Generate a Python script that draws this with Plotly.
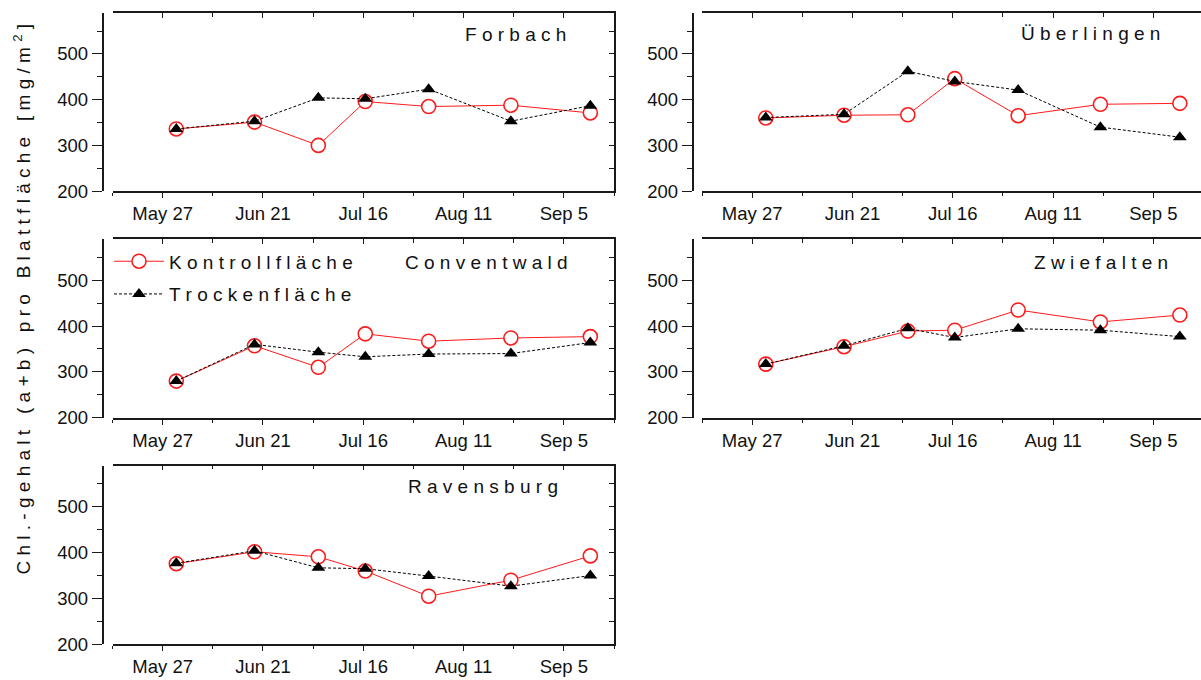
import plotly.graph_objects as go

# ---------------- data ----------------
# sampling days, counted from May 27
days = [3.4, 22.9, 38.8, 50.5, 66.3, 86.8, 106.6]
tick_days = [0, 25, 50, 75, 100]
tick_labels = ["May 27", "Jun 21", "Jul 16", "Aug 11", "Sep 5"]
y_ticks = [200, 300, 400, 500]

sites = ["Forbach", "Überlingen", "Conventwald", "Zwiefalten", "Ravensburg"]
kontroll = {
    "Forbach":     [336, 351, 300, 396, 385, 388, 371],
    "Überlingen":  [360, 366, 367, 446, 365, 390, 392],
    "Conventwald": [280, 357, 310, 383, 367, 374, 377],
    "Zwiefalten":  [317, 355, 389, 391, 435, 409, 424],
    "Ravensburg":  [376, 402, 391, 360, 305, 340, 393],
}
trocken = {
    "Forbach":     [336, 353, 404, 402, 423, 353, 387],
    "Überlingen":  [361, 368, 462, 440, 421, 340, 318],
    "Conventwald": [280, 360, 343, 333, 339, 340, 364],
    "Zwiefalten":  [317, 357, 395, 375, 394, 391, 377],
    "Ravensburg":  [377, 404, 367, 365, 349, 327, 350],
}
names = ["Kontrollfläche", "Trockenfläche"]
y_title = "Chl.-gehalt (a+b) pro Blattfläche [mg/m²]"

# ---------------- layout helpers ----------------
W, H = 1201, 680
FONT = "Liberation Sans, Arial, sans-serif"
FS_TICK = 18.5
FS_TXT = 19


def fx(px):
    return px / W


def fy(py):
    return 1 - py / H


def spaced(s):
    NB = "\u00a0"
    return (NB * 3).join(" ".join(list(w)) for w in s.split(" "))


cols = [  # (y-axis line, frame left, frame right)
    (102.5, 112.5, 614.0),
    (692.5, 702.0, 1201.0),
]
px_per_day = (614.0 - 112.5) / 125.0
rows = [(13.0, 194.0), (242.5, 424.0), (472.5, 654.0)]
grid = [(0, 0), (0, 1), (1, 0), (1, 1), (2, 0)]
title_pos = [(568, 35), (1162, 34), (570, 266), (1170, 266), (560, 494)]

fig = go.Figure()
layout = {}
annotations = []
axcol = "#1a1a1a"

for i, (site, (r, c)) in enumerate(zip(sites, grid), start=1):
    yl, x0, x1 = cols[c]
    t, b = rows[r]
    xr = [-12.5, -12.5 + (x1 - x0) / px_per_day]
    xdom = [fx(x0), fx(x1)]
    ydom = [fy(b), fy(t)]

    common_x = dict(range=xr, tickmode="array", tickvals=tick_days,
                    showgrid=False, zeroline=False, showline=True,
                    linecolor=axcol, linewidth=1.5, tickcolor=axcol,
                    tickwidth=1)
    common_y = dict(range=[200, 590], tickmode="array", tickvals=y_ticks,
                    showgrid=False, zeroline=False, showline=True,
                    linecolor=axcol, linewidth=1.5, tickcolor=axcol,
                    tickwidth=1)

    layout[f"xaxis{i}"] = dict(
        common_x, domain=xdom, anchor=f"y{i}", ticktext=tick_labels,
        ticks="outside", ticklen=5,
        minor=dict(tick0=-12.5, dtick=25, ticks="outside", ticklen=3,
                   tickcolor=axcol, showgrid=False),
        tickfont=dict(family=FONT, size=FS_TICK, color="#111"))
    layout[f"yaxis{i}"] = dict(
        common_y, domain=ydom, anchor="free", position=fx(yl),
        ticks="outside", ticklen=10,
        minor=dict(tick0=200, dtick=50, ticks="outside", ticklen=5,
                   tickcolor=axcol, showgrid=False),
        tickfont=dict(family=FONT, size=FS_TICK, color="#111"))
    # top frame with inward ticks
    layout[f"xaxis{i + 5}"] = dict(
        common_x, overlaying=f"x{i}", side="top", anchor=f"y{i}",
        ticks="inside", ticklen=5, showticklabels=False,
        minor=dict(tick0=-12.5, dtick=25, ticks="inside", ticklen=4,
                   tickcolor=axcol, showgrid=False))
    fig.add_trace(go.Scatter(x=[], y=[], xaxis=f"x{i + 5}", yaxis=f"y{i}",
                             showlegend=False, hoverinfo="skip"))
    # right frame with inward ticks (left column only; right column is cut)
    if c == 0:
        layout[f"yaxis{i + 5}"] = dict(
            common_y, overlaying=f"y{i}", side="right", anchor=f"x{i}",
            ticks="inside", ticklen=5, showticklabels=False,
            minor=dict(tick0=200, dtick=50, ticks="inside", ticklen=5,
                       tickcolor=axcol, showgrid=False))
        fig.add_trace(go.Scatter(x=[], y=[], xaxis=f"x{i}", yaxis=f"y{i + 5}",
                                 showlegend=False, hoverinfo="skip"))

    fig.add_trace(go.Scatter(
        x=days, y=kontroll[site], xaxis=f"x{i}", yaxis=f"y{i}",
        mode="lines+markers", name=spaced(names[0]),
        legendgroup="k", showlegend=(i == 1),
        line=dict(color="#ff1a1a", width=1),
        marker=dict(symbol="circle", size=14, color="white",
                    line=dict(color="#ff1a1a", width=1.6))))
    fig.add_trace(go.Scatter(
        x=days, y=trocken[site], xaxis=f"x{i}", yaxis=f"y{i}",
        mode="lines+markers", name=spaced(names[1]),
        legendgroup="t", showlegend=(i == 1),
        line=dict(color="black", width=1, dash="3px,2px"),
        marker=dict(symbol="triangle-up", size=12, color="black",
                    line=dict(width=0))))

    tx, ty = title_pos[i - 1]
    annotations.append(dict(
        text=spaced(site), x=fx(tx), y=fy(ty), xref="paper", yref="paper",
        xanchor="right", yanchor="middle", showarrow=False,
        font=dict(family=FONT, size=FS_TXT, color="#111")))

yt = y_title.replace("²", "")
ytxt = spaced(yt.replace("[mg/m]", "[mg/m#]"))
ytxt = ytxt.replace("#", "<sup>2</sup>")
annotations.append(dict(
    text=ytxt, x=fx(22), y=fy(304), xref="paper", yref="paper",
    xanchor="center", yanchor="middle", textangle=-90, showarrow=False,
    font=dict(family=FONT, size=FS_TXT, color="#111")))

fig.update_layout(
    **layout,
    width=W, height=H,
    margin=dict(l=0, r=0, t=0, b=0),
    paper_bgcolor="white", plot_bgcolor="white",
    annotations=annotations,
    showlegend=True,
    legend=dict(x=fx(109), y=fy(246), xanchor="left", yanchor="top",
                bgcolor="rgba(0,0,0,0)", borderwidth=0,
                tracegroupgap=5, itemwidth=50,
                font=dict(family=FONT, size=FS_TXT, color="#111")),
)

fig.write_html("out.html")
